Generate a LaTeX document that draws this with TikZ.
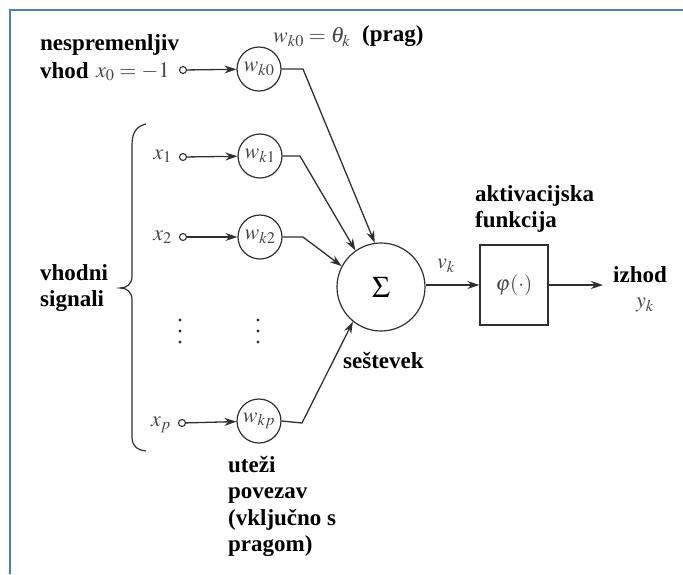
\documentclass[tikz,border=0pt]{standalone}
\usepackage{mathptmx}
\usepackage{fontspec}
\newfontfamily\tmsfont{Liberation Serif}
\usetikzlibrary{arrows.meta}
\definecolor{frameblue}{HTML}{4F81BD}
\definecolor{ink}{HTML}{303030}
\definecolor{mathgray}{HTML}{474747}
\begin{document}
\begin{tikzpicture}[x=1pt,y=-1pt,
  lbl/.style={font=\fontsize{23}{26.5}\selectfont\tmsfont\bfseries, align=left, inner sep=0pt, text=black},
  mth/.style={font=\fontsize{22}{26}\selectfont, inner sep=0pt, text=mathgray},
  wnode/.style={circle, draw=ink, line width=1.2pt, minimum size=44pt,
                inner sep=0pt, text=mathgray, font=\fontsize{22}{24}\selectfont},
  term/.style={circle, draw=ink, line width=1.1pt, minimum size=7pt, inner sep=0pt},
  wire/.style={draw=ink, line width=1.3pt},
  arr/.style={wire, -{Stealth[length=12pt,width=8pt]}},
]
\useasboundingbox (0,0) rectangle (683,574);
\fill[white] (0,0) rectangle (683,574);
\draw[frameblue, line width=2.2pt] (10,574) -- (10,10) -- (683,10);

% weight nodes
\node[wnode] (w0) at (259,69)  {$w_{k0}$};
\node[wnode] (w1) at (260,156) {$w_{k1}$};
\node[wnode] (w2) at (260,237) {$w_{k2}$};
\node[wnode] (wp) at (259,421) {$w_{kp}$};

% input terminals
\node[term] (t0) at (183,70)  {};
\node[term] (t1) at (183,157) {};
\node[term] (t2) at (183,237) {};
\node[term] (tp) at (182,423) {};

% input labels
\node[lbl, anchor=west] (nes) at (40,45) {nespremenljiv};
\node[lbl, anchor=west] (vhod) at (40,71) {vhod};
\node[mth, anchor=west] (x0) at (96,72) {$x_0=-1$};
\node[mth, anchor=east] (x1) at (172,156) {$x_1$};
\node[mth, anchor=east] (x2) at (172,237) {$x_2$};
\node[mth, anchor=east] (xp) at (171,425) {$x_p$};
\node[mth, anchor=west] (theta) at (273,37) {$w_{k0}=\theta_k$};
\node[lbl, anchor=west] (prag) at (362,36) {(prag)};

% omitted inputs
\foreach \xx in {180,258}{
  \foreach \yy in {320,331,342}{
    \fill[ink] (\xx,\yy) circle (1.6pt);
  }
}

% brace over the input signals
\draw[ink, line width=1.2pt]
  (146,124) .. controls (137,126) and (132,132) .. (132,145)
  -- (132,276) .. controls (132,284) and (127,288) .. (120,288)
  .. controls (127,288) and (132,292) .. (132,300)
  -- (132,437) .. controls (132,446) and (137,450) .. (146,451);
\node[lbl, anchor=west] (vs) at (40,288) {vhodni\\signali};

% summing junction and activation
\node[circle, draw=ink, line width=1.2pt, minimum size=88pt, inner sep=0pt,
      font=\fontsize{30}{30}\selectfont] (sum) at (381,287) {$\Sigma$};
\node[draw=ink, line width=1.2pt, minimum width=68pt, minimum height=80pt, inner sep=0pt,
      text=mathgray, font=\fontsize{21}{24}\selectfont] (phi) at (514,285) {$\varphi(\cdot)$};
\coordinate (out) at (603,285);

% bends of the weight outputs
\coordinate (b0) at (303,69);
\coordinate (b1) at (300,156);
\coordinate (b2) at (303,237);
\coordinate (bp) at (302,423);

% connectors
\draw[arr] (t0) -- (w0);
\draw[arr] (t1) -- (w1);
\draw[arr] (t2) -- (w2);
\draw[arr] (tp) -- (wp);
\draw[arr] (w0.east) -- (b0) -- (sum.98);
\draw[arr] (w1.east) -- (b1) -- (sum.125);
\draw[arr] (w2.east) -- (b2) -- (sum.152);
\draw[arr] (wp.east) -- (bp) -- (sum.231);
\draw[arr] (sum.east |- phi.west) -- (phi.west);
\draw[arr] (phi.east) -- (out);

% output side labels
\node[mth, anchor=west] (vk) at (437,266) {$v_k$};
\node[lbl, anchor=west] (akt) at (475,209) {aktivacijska\\funkcija};
\node[lbl, anchor=west] (izh) at (613,275) {izhod};
\node[mth, anchor=west] (yk) at (636,305) {$y_k$};
\node[lbl, anchor=west] (ses) at (343,360) {seštevek};
\node[lbl, anchor=north west] (ut) at (228,456) {uteži\\povezav\\(vključno s\\pragom)};
\end{tikzpicture}
\end{document}
